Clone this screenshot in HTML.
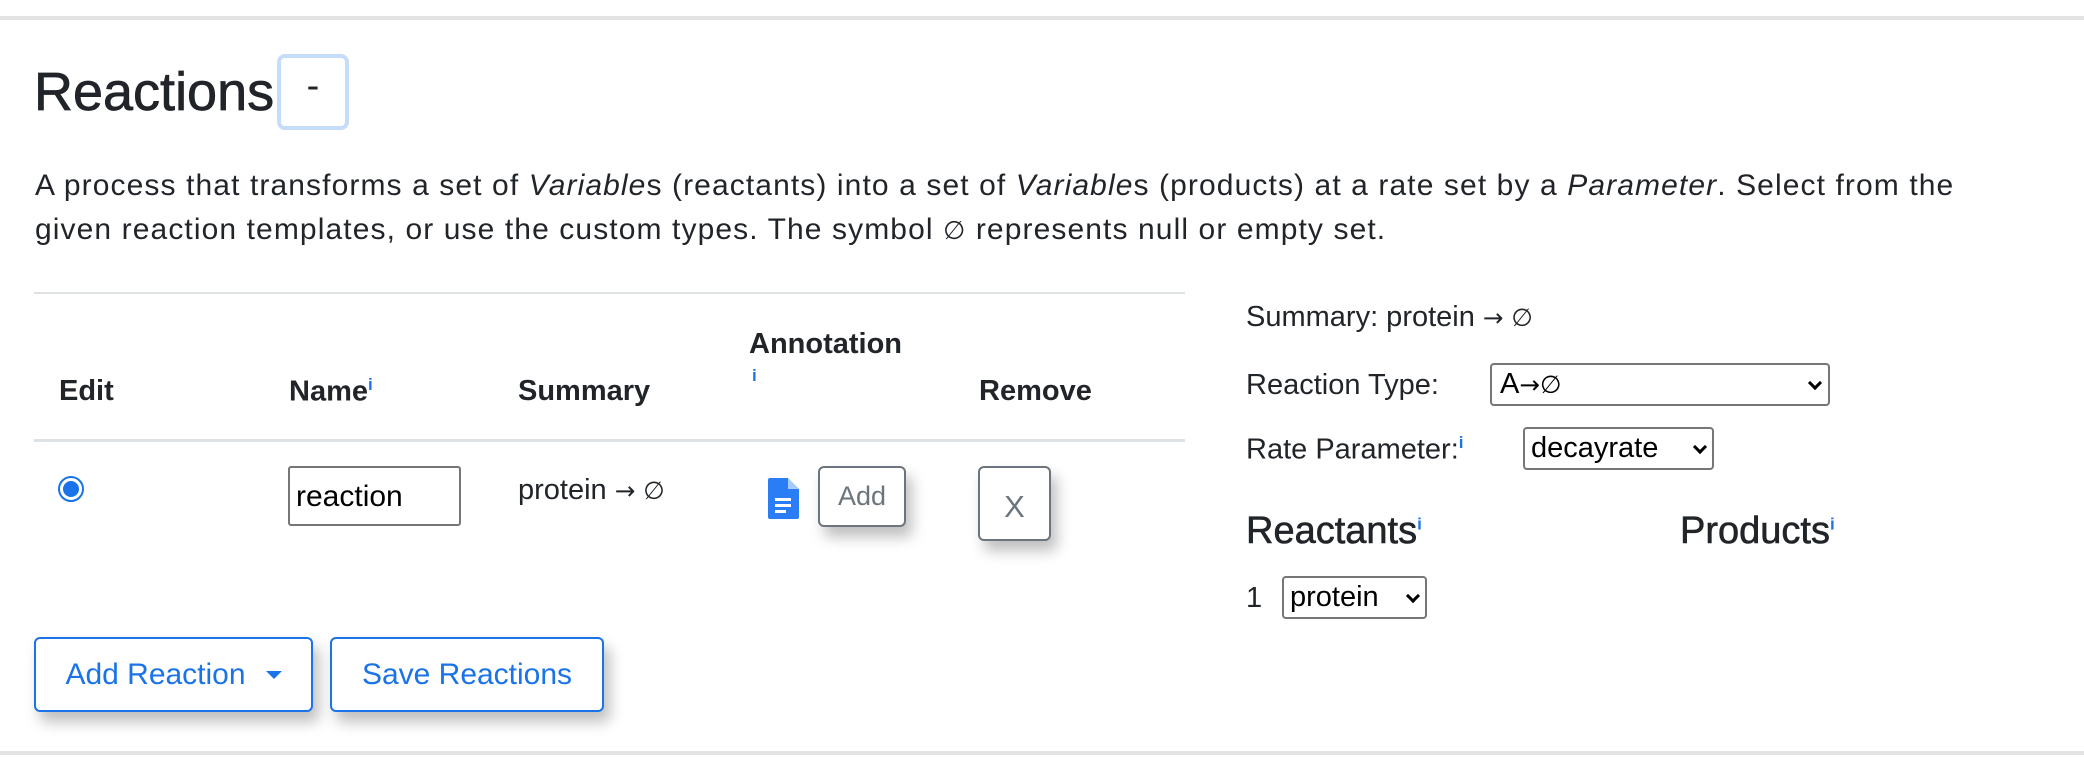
<!DOCTYPE html>
<html><head><meta charset="utf-8"><style>
*{box-sizing:border-box;margin:0;padding:0}
body{width:2084px;height:772px;background:#fff;position:relative;overflow:hidden;font-family:"Liberation Sans",sans-serif;color:#212529}
.a{position:absolute;white-space:nowrap}
.line{position:absolute;left:0;width:2084px;height:4px;background:#e3e3e3}
.b{font-weight:bold;font-size:29px}
.sup{color:#1a73e8;font-size:17px;font-weight:bold;-webkit-text-stroke:0}
.ar{font-family:"DejaVu Sans",sans-serif;font-size:0.85em}
.btn{position:absolute;border:2px solid #1a73e8;border-radius:6px;color:#1a73e8;font-size:30px;display:flex;align-items:center;justify-content:center;background:#fff;box-shadow:6px 10px 14px rgba(0,0,0,.25)}
.gbtn{position:absolute;border:2px solid #6c757d;border-radius:6px;color:#6c757d;display:flex;align-items:center;justify-content:center;background:#fff;box-shadow:6px 10px 14px rgba(0,0,0,.25)}
.sel{position:absolute;border:2px solid #767676;border-radius:4px;font-size:29px;color:#000;padding-left:8px;display:flex;align-items:center}
.chev{position:absolute;right:8px;top:50%;width:10px;height:10px;border-right:3px solid #000;border-bottom:3px solid #000;transform:translateY(-70%) rotate(45deg)}
</style></head><body>
<div class="line" style="top:16px"></div>
<div class="line" style="top:751px"></div>

<div class="a" style="left:34px;top:62px;font-size:54px;line-height:60px;-webkit-text-stroke:0.7px #212529">Reactions</div>
<div class="a" style="left:277px;top:54px;width:72px;height:76px;border:4px solid #c6dcfb;border-radius:8px;font-size:38px;text-align:center;line-height:56px">-</div>

<div class="a" style="left:35px;top:164px;font-size:30px;letter-spacing:1.1px;line-height:44px">A process that transforms a set of <i>Variable</i>s (reactants) into a set of <i>Variable</i>s (products) at a rate set by a <i>Parameter</i>. Select from the<br>given reaction templates, or use the custom types. The symbol <span class="ar">∅</span> represents null or empty set.</div>

<div class="a" style="left:34px;top:292px;width:1151px;height:2px;background:#dee2e6"></div>
<div class="a" style="left:34px;top:439px;width:1151px;height:3px;background:#dee2e6"></div>

<div class="a b" style="left:59px;top:375px">Edit</div>
<div class="a b" style="left:289px;top:375px">Name<sup class="sup">i</sup></div>
<div class="a b" style="left:518px;top:375px">Summary</div>
<div class="a b" style="left:749px;top:328px">Annotation</div>
<div class="a sup" style="left:752px;top:366px">i</div>
<div class="a b" style="left:979px;top:375px">Remove</div>

<div class="a" style="left:58px;top:476px;width:26px;height:26px;border-radius:50%;border:2px solid #1a73e8;background:#fff"><div style="position:absolute;left:3px;top:3px;width:16px;height:16px;border-radius:50%;background:#1a73e8"></div></div>
<div class="a" style="left:288px;top:466px;width:173px;height:60px;border:2px solid #767676;border-radius:3px;font-size:30px;padding-left:6px;line-height:58px;color:#000">reaction</div>
<div class="a" style="left:518px;top:474px;font-size:29px">protein <span class="ar">→ ∅</span></div>
<svg class="a" style="left:768px;top:478px" width="31" height="41" viewBox="0 0 31 41"><path d="M2 0H20L31 11V39Q31 41 29 41H2Q0 41 0 39V2Q0 0 2 0Z" fill="#2a7df4"/><path d="M20 0V11H31Z" fill="#fff" opacity=".6"/><rect x="7" y="20" width="16" height="3" fill="#fff"/><rect x="7" y="26" width="16" height="3" fill="#fff"/><rect x="7" y="32" width="11" height="3" fill="#fff"/></svg>
<div class="gbtn" style="left:818px;top:466px;width:88px;height:61px;font-size:27px">Add</div>
<div class="gbtn" style="left:978px;top:466px;width:73px;height:75px;font-size:31px;padding-top:6px">X</div>

<div class="btn" style="left:34px;top:637px;width:279px;height:75px">Add Reaction<span style="display:inline-block;margin-left:20px;border-left:8px solid transparent;border-right:8px solid transparent;border-top:8px solid #1a73e8"></span></div>
<div class="btn" style="left:330px;top:637px;width:274px;height:75px">Save Reactions</div>

<div class="a" style="left:1246px;top:301px;font-size:29px">Summary: protein <span class="ar">→ ∅</span></div>
<div class="a" style="left:1246px;top:369px;font-size:29px">Reaction Type:</div>
<div class="sel" style="left:1490px;top:363px;width:340px;height:43px">A<span class="ar">→∅</span><div class="chev"></div></div>
<div class="a" style="left:1246px;top:433px;font-size:29px">Rate Parameter:<sup class="sup">i</sup></div>
<div class="sel" style="left:1523px;top:427px;width:191px;height:43px;padding-left:6px">decayrate<div class="chev" style="right:7px"></div></div>
<div class="a" style="left:1246px;top:510px;font-size:38px;-webkit-text-stroke:0.6px #212529">Reactants<sup class="sup">i</sup></div>
<div class="a" style="left:1680px;top:510px;font-size:38px;-webkit-text-stroke:0.6px #212529">Products<sup class="sup">i</sup></div>
<div class="a" style="left:1246px;top:582px;font-size:29px">1</div>
<div class="sel" style="left:1282px;top:576px;width:145px;height:43px;padding-left:6px">protein<div class="chev" style="right:7px"></div></div>
</body></html>
